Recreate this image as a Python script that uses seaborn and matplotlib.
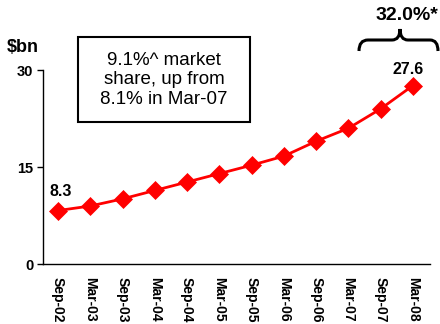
import numpy as np
import pandas as pd
import matplotlib
matplotlib.use("Agg")
import matplotlib.pyplot as plt
from matplotlib.patches import Rectangle, PathPatch
from matplotlib.path import Path
import seaborn as sns

periods = ["Sep-02", "Mar-03", "Sep-03", "Mar-04", "Sep-04", "Mar-05",
           "Sep-05", "Mar-06", "Sep-06", "Mar-07", "Sep-07", "Mar-08"]
values = [8.3, 9.0, 10.1, 11.4, 12.7, 14.0, 15.3, 16.7, 19.0, 21.0, 24.0, 27.6]
y_ticks = [0, 15, 30]
unit_label = "$bn"
box_text = "9.1%^ market\nshare, up from\n8.1% in Mar-07"
growth_label = "32.0%*"

sns.set_style("white")
plt.rcParams["font.family"] = ["Liberation Sans", "DejaVu Sans"]
plt.rcParams["text.color"] = "black"
plt.rcParams["xtick.color"] = "black"
plt.rcParams["ytick.color"] = "black"
plt.rcParams["axes.labelcolor"] = "black"

W, H = 440, 324
fig = plt.figure(figsize=(W / 100, H / 100), dpi=100)

def fx(px):
    return px / W

def fy(py):
    return 1 - py / H

ax = fig.add_axes([fx(43), fy(264.3), fx(430) - fx(43), fy(70) - fy(264.3)])

df = pd.DataFrame({"pos": np.arange(len(periods)), "value": values})
sns.lineplot(data=df, x="pos", y="value", ax=ax, color="#FF0000", lw=2,
             marker="D", markersize=9.5, markeredgecolor="#FF0000",
             markeredgewidth=0.5)

ax.set_xlim(-0.465, 11.53)
ax.set_ylim(0, 30)
ax.set_xticks(np.arange(len(periods)))
ax.set_xticklabels(periods, rotation=-90, fontsize=10, fontweight="bold")
ax.set_yticks(y_ticks)
ax.set_yticklabels([str(v) for v in y_ticks], fontsize=10.5, fontweight="bold")
ax.tick_params(axis="x", length=0, pad=9, colors="black")
ax.tick_params(axis="y", length=4, width=1, direction="out", left=True, pad=3,
               colors="black")
ax.set_xlabel("")
ax.set_ylabel("")
for s in ["top", "right"]:
    ax.spines[s].set_visible(False)
for s in ["left", "bottom"]:
    ax.spines[s].set_color("black")
    ax.spines[s].set_linewidth(1)

# data labels
ax.annotate(f"{values[0]:.1f}", (0, values[0]), xytext=(2.2, 13.5),
            textcoords="offset points", ha="center", va="center",
            fontsize=11.5, fontweight="bold", color="black")
ax.annotate(f"{values[-1]:.1f}", (len(values) - 1, values[-1]), xytext=(-3.6, 11.5),
            textcoords="offset points", ha="center", va="center",
            fontsize=11.5, fontweight="bold", color="black")

# unit label
fig.text(fx(23), fy(47), unit_label, ha="center", va="center",
         fontsize=13, fontweight="bold", color="black")

# text box
fig.add_artist(Rectangle((fx(78), fy(122)), fx(250) - fx(78), fy(37) - fy(122),
                         transform=fig.transFigure, facecolor="white",
                         edgecolor="black", lw=1.5))
fig.text(fx(164), fy(80), box_text, ha="center", va="center",
         fontsize=13.5, linespacing=1.2, color="black")

# curly brace
pts = [(359, 51), (359, 40), (368, 40), (392, 40), (400, 40), (400, 29),
       (400, 40), (408, 40), (430, 40), (438, 40), (438, 51)]
codes = [Path.MOVETO, Path.CURVE3, Path.CURVE3, Path.LINETO, Path.CURVE3,
         Path.CURVE3, Path.CURVE3, Path.CURVE3, Path.LINETO, Path.CURVE3,
         Path.CURVE3]
path = Path([(fx(x), fy(y)) for x, y in pts], codes)
fig.add_artist(PathPatch(path, transform=fig.transFigure, facecolor="none",
                         edgecolor="black", lw=2.2, capstyle="butt"))
fig.text(fx(407), fy(15), growth_label, ha="center", va="center",
         fontsize=14, fontweight="bold", color="black")

fig.savefig("out.png", dpi=100, facecolor="white")
